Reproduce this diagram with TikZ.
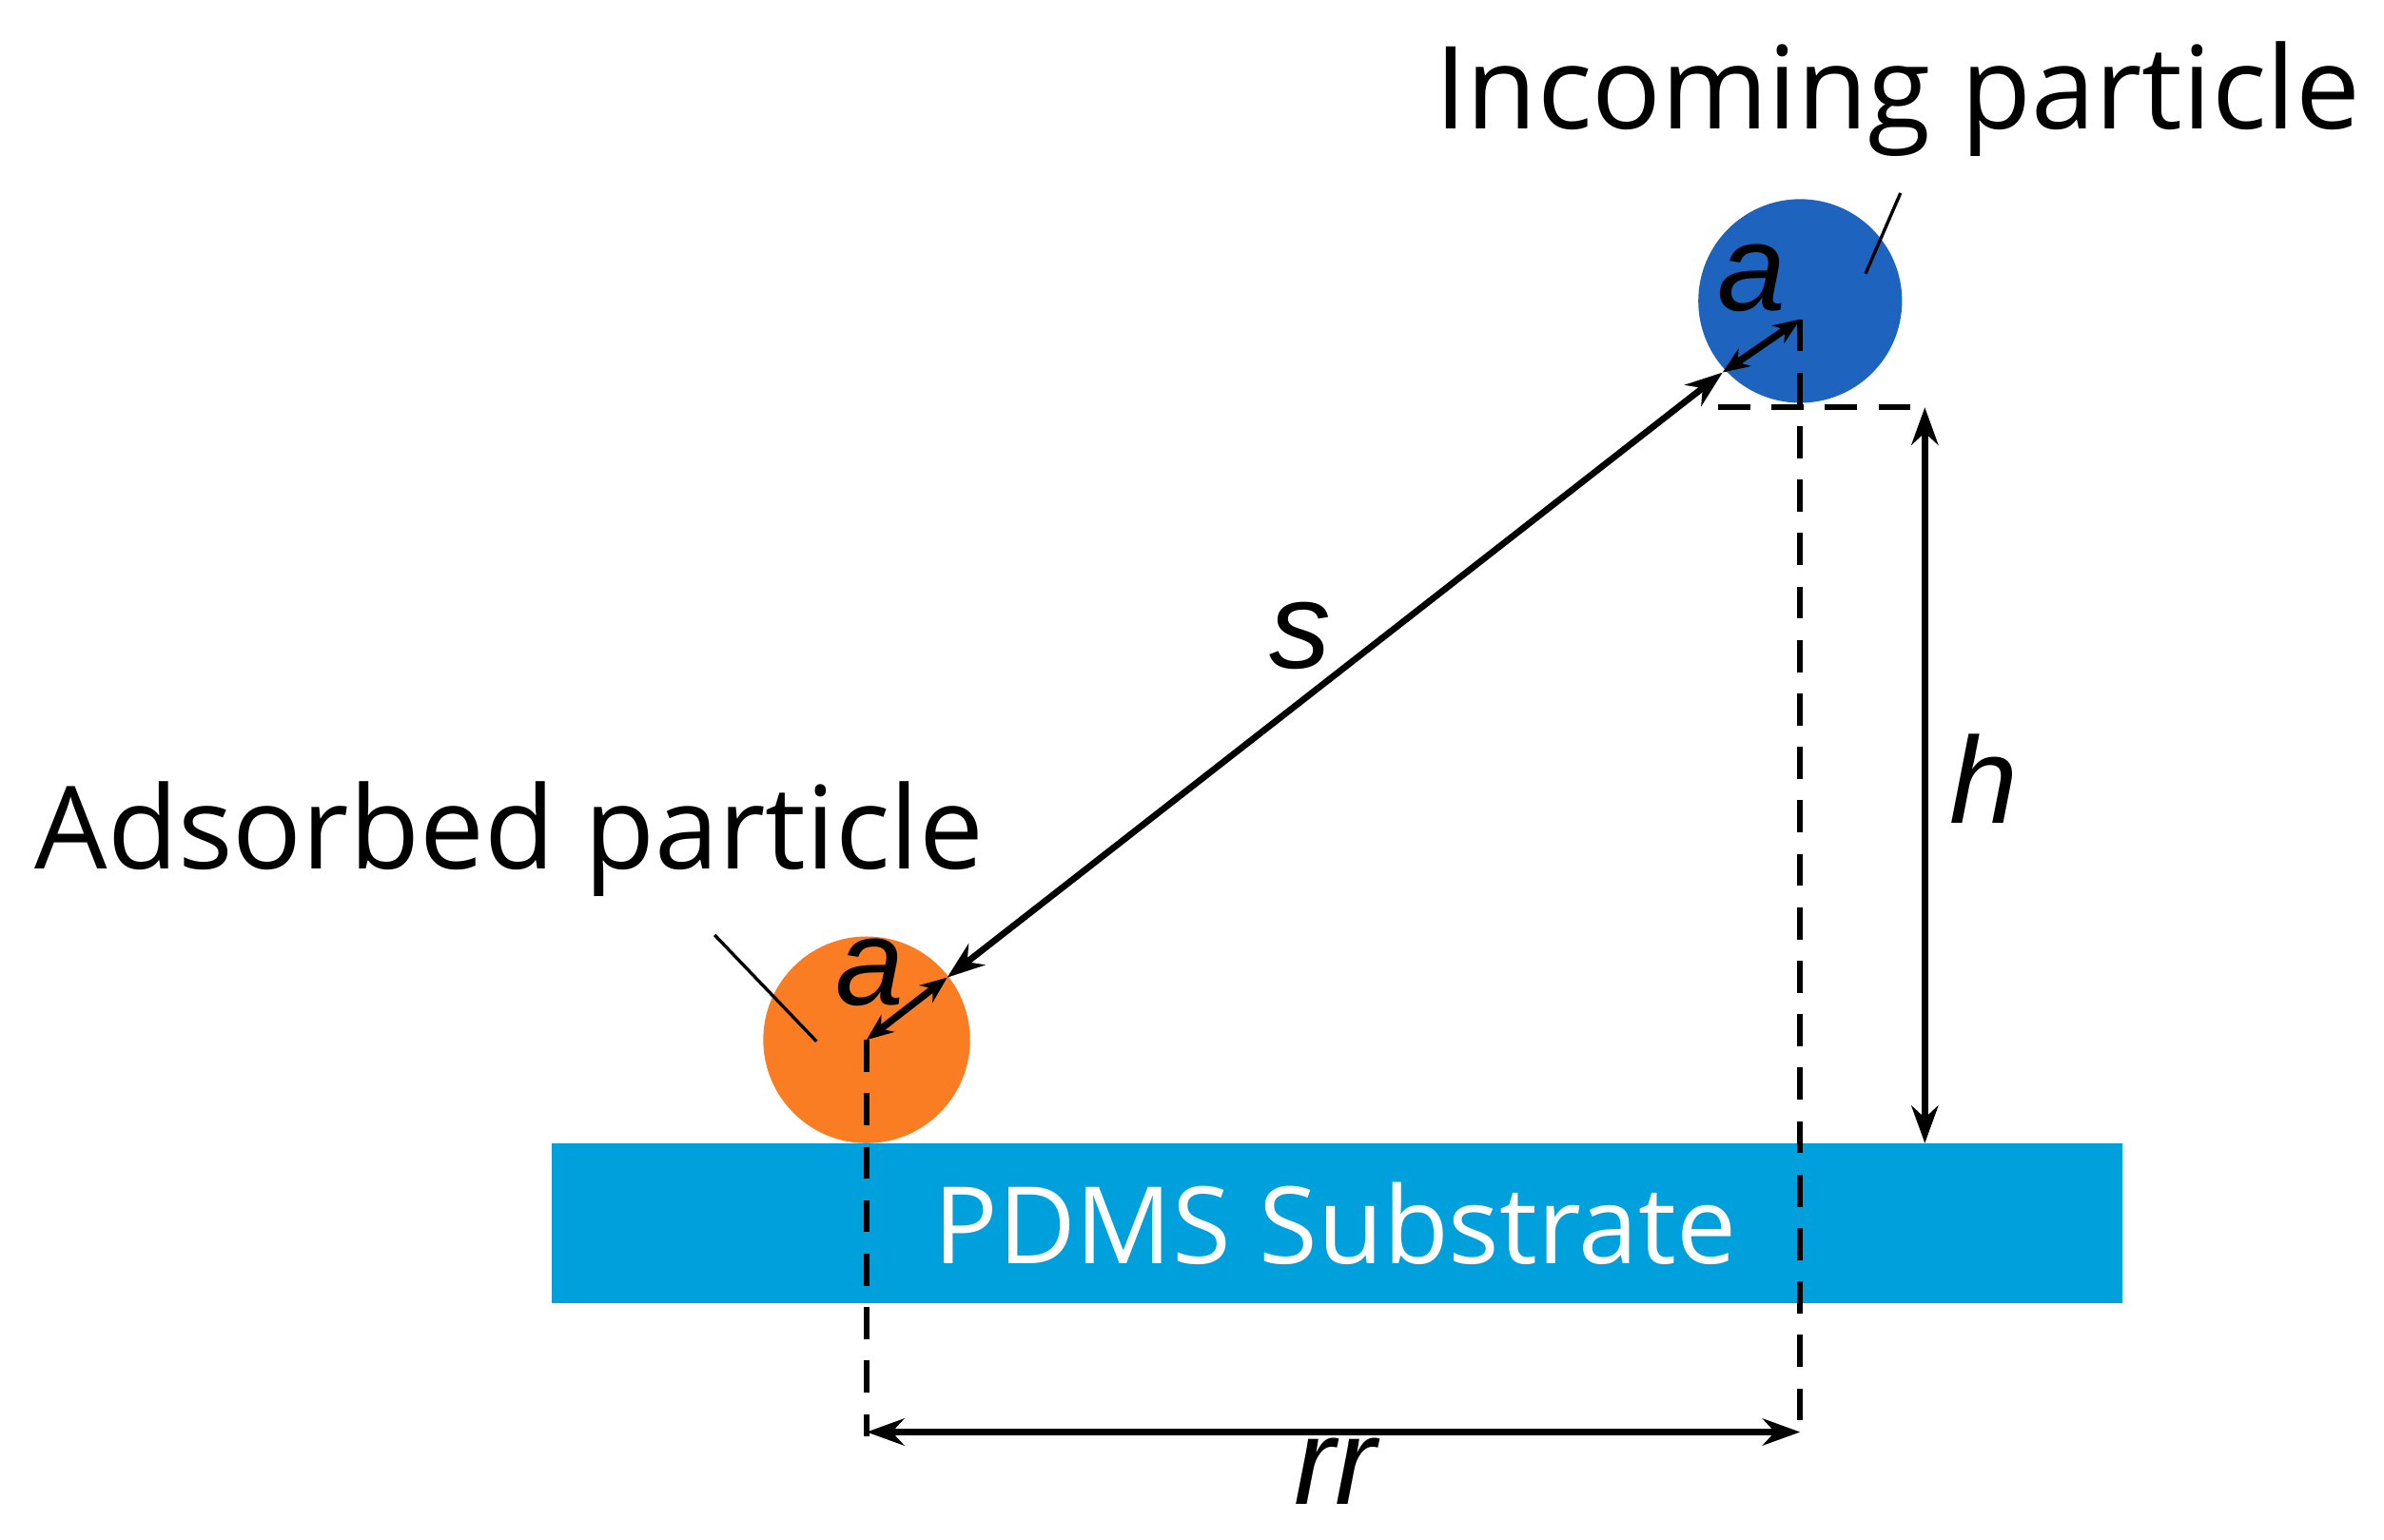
\documentclass[tikz,border=0pt]{standalone}
\usepackage{fontspec}
\setmainfont{Open Sans}
\newfontfamily\lab{Liberation Sans}
\usetikzlibrary{arrows.meta}
\definecolor{sub}{RGB}{0,160,220}
\definecolor{blu}{RGB}{30,100,190}
\definecolor{ora}{RGB}{250,125,35}
\begin{document}
\begin{tikzpicture}[x=0.01cm,y=-0.01cm,
  dim/.style={{Stealth[length=7pt,width=5pt]}-{Stealth[length=7pt,width=5pt]},line width=1.2pt},
  sdim/.style={{Stealth[length=5pt,width=4pt]}-{Stealth[length=5pt,width=4pt]},line width=1.3pt},
  dsh/.style={line width=1.1pt,dash pattern=on 6pt off 4pt},
  big/.style={font=\fontsize{21.5}{24}\selectfont},
  var/.style={font=\lab\itshape\fontsize{23}{26}\selectfont}]
\useasboundingbox (0,0) rectangle (1568,1013);
\fill[sub] (363,752) rectangle (1396,857);
\node[font=\fontsize{20}{24}\selectfont,text=white] (st) at (878,805) {PDMS Substrate};
\node[circle,fill=blu,minimum size=134*0.01cm,inner sep=0] (inc) at (1184,198) {};
\node[circle,fill=ora,minimum size=136*0.01cm,inner sep=0] (ads) at (570,684) {};
\coordinate (ic) at (1184,210);
\coordinate (ac) at (570,684);
\coordinate (ie) at (1133,245);
\coordinate (ae) at (623,643);
\draw[sdim] (ic) -- (ie);
\draw[sdim] (ac) -- (ae);
\draw[dim] (ae) -- (ie);
\coordinate (d1) at (570,945);
\coordinate (d2) at (1184,945);
\coordinate (hl) at (1130,268);
\coordinate (hr) at (1262,268);
\draw[dsh] (ac) -- (d1);
\draw[dsh] (ic) -- (d2);
\draw[dsh] (hl) -- (hr);
\coordinate (ht) at (1266,268);
\coordinate (hb) at (1266,752);
\draw[dim] (ht) -- (hb);
\coordinate (r1) at (570,942);
\coordinate (r2) at (1184,942);
\draw[dim] (r1) -- (r2);
\node[var] (h) at (1305,512) {h};
\node[var] (rr) at (878,968) {rr};
\node[var] (s) at (855,418) {s};
\node[var] (a1) at (1152,183) {a};
\node[var] (a2) at (572,640) {a};
\node[big] (incl) at (1248,65) {Incoming particle};
\node[big] (adsl) at (335,552) {Adsorbed particle};
\coordinate (l1a) at (1250,127); \coordinate (l1b) at (1227,180);
\coordinate (l2a) at (470,615); \coordinate (l2b) at (537,685);
\draw[line width=0.6pt] (l1a) -- (l1b);
\draw[line width=0.6pt] (l2a) -- (l2b);
\end{tikzpicture}
\end{document}
